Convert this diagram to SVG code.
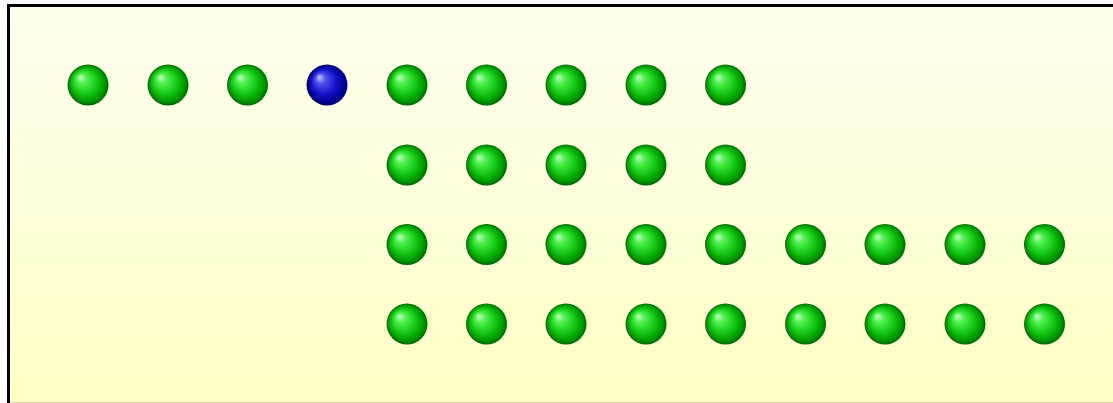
<svg xmlns="http://www.w3.org/2000/svg" width="1113" height="403" viewBox="0 0 1113 403">
<defs>
<linearGradient id="bg" x1="0" y1="0" x2="0" y2="1">
<stop offset="0" stop-color="#fffff0"/>
<stop offset="1" stop-color="#ffffc2"/>
</linearGradient>
<radialGradient id="g" cx="0.5" cy="0.5" r="0.5" fx="0.3" fy="0.3">
<stop offset="0" stop-color="#c8ffc8"/>
<stop offset="0.25" stop-color="#50f050"/>
<stop offset="0.6" stop-color="#14c814"/>
<stop offset="0.88" stop-color="#009400"/>
<stop offset="1" stop-color="#006400"/>
</radialGradient>
<radialGradient id="b" cx="0.5" cy="0.5" r="0.5" fx="0.3" fy="0.3">
<stop offset="0" stop-color="#c8c8ff"/>
<stop offset="0.25" stop-color="#5050f0"/>
<stop offset="0.6" stop-color="#1414c8"/>
<stop offset="0.88" stop-color="#000094"/>
<stop offset="1" stop-color="#000064"/>
</radialGradient>
<style>
.g{fill:url(#g)}
.b{fill:url(#b)}
</style>
</defs>
<rect x="8.5" y="5.5" width="1120" height="420" fill="url(#bg)" stroke="#000" stroke-width="3"/>
<line x1="10" y1="402.5" x2="1113" y2="402.5" stroke="#d8d8b0" stroke-width="1"/>
<g id="row1">
<circle class="g" cx="88" cy="85" r="20.5"/>
<circle class="g" cx="168" cy="85" r="20.5"/>
<circle class="g" cx="247.5" cy="85" r="20.5"/>
<circle class="b" cx="327" cy="85" r="20.5"/>
<circle class="g" cx="407" cy="85" r="20.5"/>
<circle class="g" cx="486.5" cy="85" r="20.5"/>
<circle class="g" cx="566" cy="85" r="20.5"/>
<circle class="g" cx="646" cy="85" r="20.5"/>
<circle class="g" cx="725.5" cy="85" r="20.5"/>
</g>
<g id="row2">
<circle class="g" cx="407" cy="165" r="20.5"/>
<circle class="g" cx="486.5" cy="165" r="20.5"/>
<circle class="g" cx="566" cy="165" r="20.5"/>
<circle class="g" cx="646" cy="165" r="20.5"/>
<circle class="g" cx="725.5" cy="165" r="20.5"/>
</g>
<g id="row3">
<circle class="g" cx="407" cy="244.5" r="20.5"/>
<circle class="g" cx="486.5" cy="244.5" r="20.5"/>
<circle class="g" cx="566" cy="244.5" r="20.5"/>
<circle class="g" cx="646" cy="244.5" r="20.5"/>
<circle class="g" cx="725.5" cy="244.5" r="20.5"/>
<circle class="g" cx="805.5" cy="244.5" r="20.5"/>
<circle class="g" cx="885" cy="244.5" r="20.5"/>
<circle class="g" cx="965" cy="244.5" r="20.5"/>
<circle class="g" cx="1044.5" cy="244.5" r="20.5"/>
</g>
<g id="row4">
<circle class="g" cx="407" cy="324" r="20.5"/>
<circle class="g" cx="486.5" cy="324" r="20.5"/>
<circle class="g" cx="566" cy="324" r="20.5"/>
<circle class="g" cx="646" cy="324" r="20.5"/>
<circle class="g" cx="725.5" cy="324" r="20.5"/>
<circle class="g" cx="805.5" cy="324" r="20.5"/>
<circle class="g" cx="885" cy="324" r="20.5"/>
<circle class="g" cx="965" cy="324" r="20.5"/>
<circle class="g" cx="1044.5" cy="324" r="20.5"/>
</g>
<g id="connectors"/>
</svg>
